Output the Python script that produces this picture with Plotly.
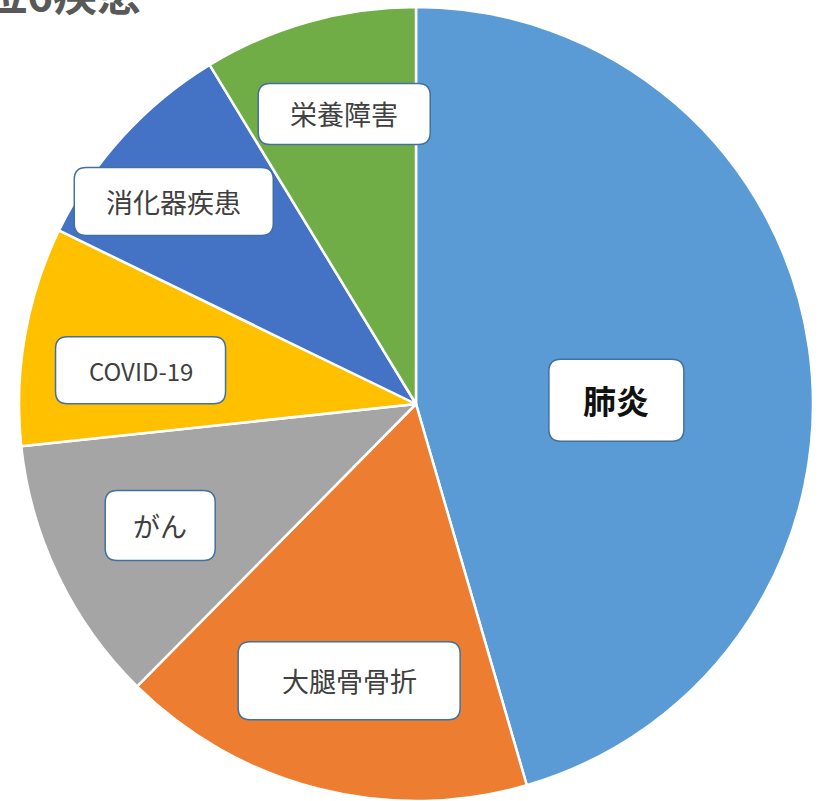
import math
import plotly.graph_objects as go

# ---- data ----
categories = ["肺炎", "大腿骨骨折", "がん", "COVID-19", "消化器疾患", "栄養障害"]
values = [45.5, 16.9, 10.9, 8.9, 9.1, 8.7]
title_text = "上位6疾患"

# ---- style ----
colors = ["#5B9BD5", "#ED7D31", "#A5A5A5", "#FFC000", "#4472C4", "#70AD47"]
label_radius = [0.505, 0.71, 0.71, 0.70, 0.80, 0.76]
label_angle_offset = [6.2, -0.5, 0.9, -2.3, -2.0, 1.9]
box_w = [135, 222, 110, 170, 199, 172]
box_h = [82, 78, 70, 67, 68, 61]
font_size = [33, 27, 27, 24, 27, 27]
font_bold = [True, False, False, False, False, False]

W, H = 822, 801
R = 397
CX, CY = 416, 404
FONT = "Noto Sans CJK JP"

fig = go.Figure(go.Pie(
    labels=categories,
    values=values,
    sort=False,
    direction="clockwise",
    rotation=0,
    marker=dict(colors=colors, line=dict(color="white", width=2.5)),
    textinfo="none",
    hoverinfo="label+value",
    showlegend=False,
    domain=dict(x=[(CX - R) / W, (CX + R) / W], y=[max(0, 1 - (CY + R) / H), 1 - (CY - R) / H]),
))

total = sum(values)
cum = 0.0
shapes = []
annotations = []
for i, (cat, v) in enumerate(zip(categories, values)):
    theta = 360.0 * (cum + v / 2) / total + label_angle_offset[i]
    cum += v
    t = math.radians(theta)
    px = CX + label_radius[i] * R * math.sin(t)
    py = CY + 3 - label_radius[i] * R * math.cos(t)
    w, h = box_w[i], box_h[i]
    x0, x1 = (px - w / 2) / W, (px + w / 2) / W
    y0, y1 = 1 - (py + h / 2) / H, 1 - (py - h / 2) / H
    rx, ry = 12 / W, 12 / H
    path = (f"M {x0+rx},{y0} L {x1-rx},{y0} Q {x1},{y0} {x1},{y0+ry} "
            f"L {x1},{y1-ry} Q {x1},{y1} {x1-rx},{y1} L {x0+rx},{y1} "
            f"Q {x0},{y1} {x0},{y1-ry} L {x0},{y0+ry} Q {x0},{y0} {x0+rx},{y0} Z")
    shapes.append(dict(type="path", path=path, xref="paper", yref="paper",
                       fillcolor="white", line=dict(color="#41719C", width=1.5)))
    txt = f"<b>{cat}</b>" if font_bold[i] else cat
    annotations.append(dict(
        x=px / W, y=1 - py / H, xref="paper", yref="paper",
        text=txt, showarrow=False, xanchor="center", yanchor="middle",
        font=dict(family=FONT, size=font_size[i], color="#111111" if font_bold[i] else "#404040"),
    ))

# partially visible title at the top-left (cut off by the frame, as in the reference)
annotations.append(dict(
    x=143 / W, y=1 + 8 / H, xref="paper", yref="paper",
    text=f"<b>{title_text}</b>", showarrow=False, xanchor="right", yanchor="middle",
    font=dict(family=FONT, size=44, color="#595959"),
))

fig.update_layout(
    width=W, height=H,
    margin=dict(l=0, r=0, t=0, b=0),
    paper_bgcolor="white",
    plot_bgcolor="white",
    shapes=shapes,
    annotations=annotations,
)

fig.write_html("out.html",
               config={"displayModeBar": False},
               post_script="document.body.style.margin='0';document.body.style.overflow='hidden';")
